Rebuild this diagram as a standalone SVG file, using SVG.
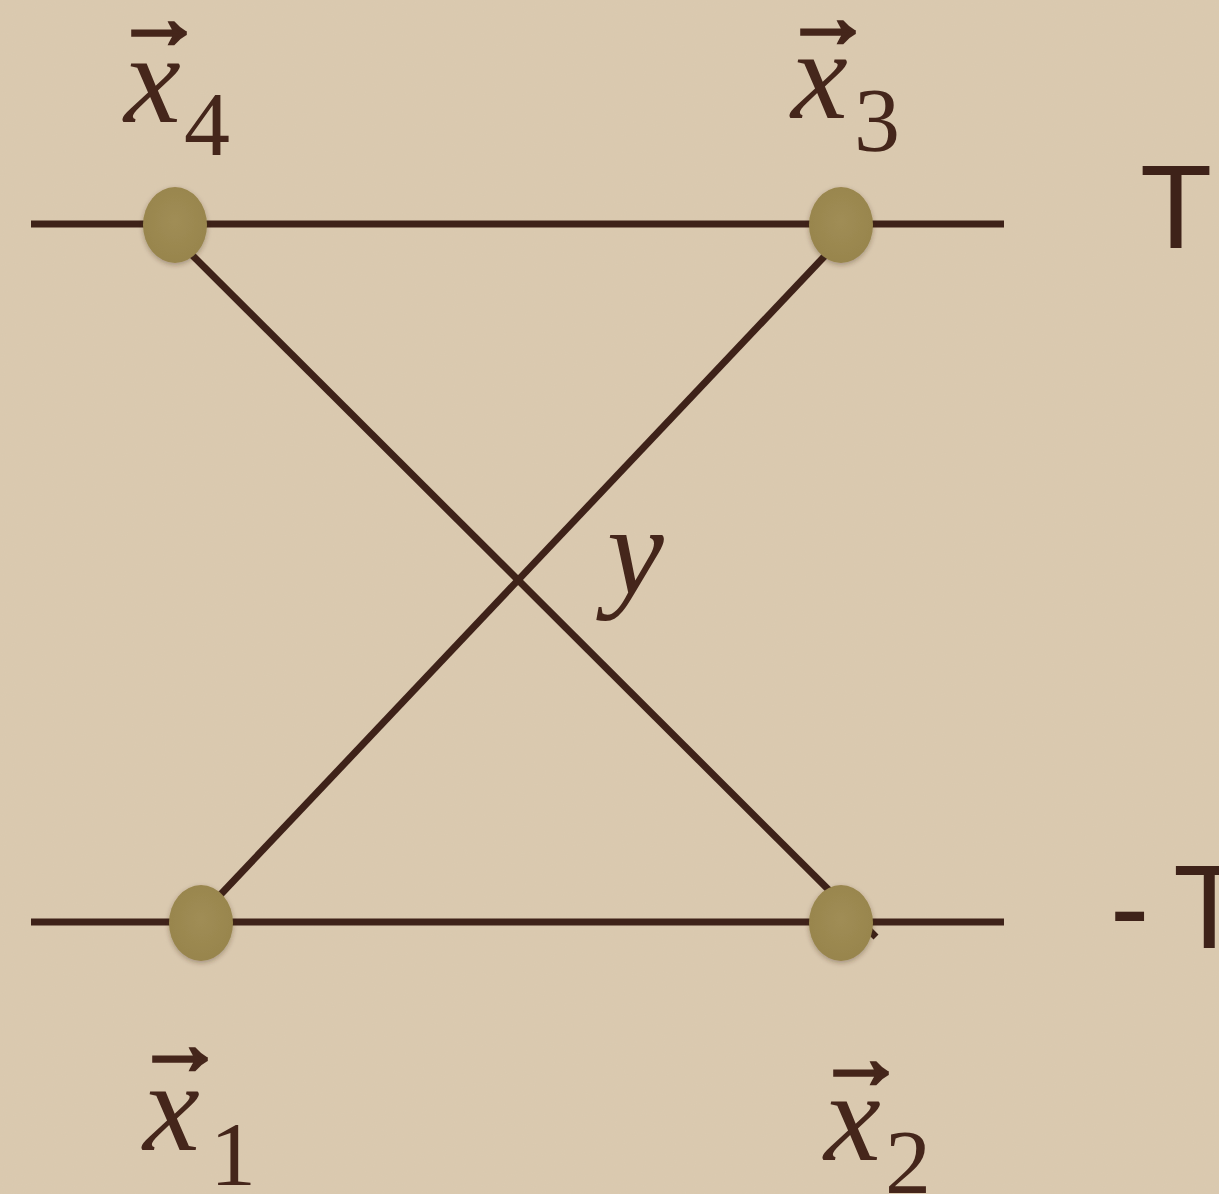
<svg xmlns="http://www.w3.org/2000/svg" width="1219" height="1194" viewBox="0 0 1219 1194">
  <defs>
    <filter id="paper" x="0" y="0" width="100%" height="100%">
      <feTurbulence type="fractalNoise" baseFrequency="0.9" numOctaves="2" seed="3" result="n"/>
      <feColorMatrix type="matrix" values="0 0 0 0 0.55  0 0 0 0 0.48  0 0 0 0 0.36  0 0 0 0.10 0" in="n"/>
    </filter>
    <filter id="shadow" x="-30%" y="-30%" width="160%" height="160%">
      <feDropShadow dx="0" dy="2" stdDeviation="2.5" flood-color="#3a2a15" flood-opacity="0.35"/>
    </filter>
    <radialGradient id="dotfill" cx="50%" cy="45%" r="60%">
      <stop offset="0" stop-color="#a08d55"/>
      <stop offset="1" stop-color="#97844c"/>
    </radialGradient>
  </defs>
  <style>
    .ln { stroke: #3e2219; stroke-width: 7; fill: none; }
    .dot { fill: url(#dotfill); filter: url(#shadow); }
    .var { font-family: "Liberation Serif", serif; font-style: italic; fill: #45261b; font-size: 128px; }
    .sub { font-family: "Liberation Serif", serif; fill: #45261b; font-size: 92px; }
    .arr { font-family: "Liberation Serif", "DejaVu Serif", serif; fill: #45261b; stroke: #45261b; stroke-width: 3.5; font-size: 88px; }
    .hand { font-family: "Liberation Sans", sans-serif; fill: #3e2219; font-size: 118px; }
  </style>
  <rect width="1219" height="1194" fill="#dbcab0"/>
  <rect width="1219" height="1194" filter="url(#paper)"/>

  <g id="connectors">
    <line class="ln" x1="31" y1="224" x2="1004" y2="224"/>
    <line class="ln" x1="31" y1="922" x2="1004" y2="922"/>
    <line class="ln" x1="180" y1="243" x2="876" y2="937"/>
    <line class="ln" x1="205" y1="911" x2="838" y2="242"/>
  </g>

  <g id="node-x4">
    <ellipse class="dot" cx="175" cy="225" rx="32" ry="38"/>
    <text class="arr" x="115" y="48">→</text>
    <text class="var" x="124" y="122">x</text>
    <text class="sub" x="184" y="155">4</text>
  </g>
  <g id="node-x3">
    <ellipse class="dot" cx="841" cy="225" rx="32" ry="38"/>
    <text class="arr" x="784" y="47">→</text>
    <text class="var" x="791" y="118">x</text>
    <text class="sub" x="854" y="151">3</text>
  </g>
  <g id="node-x1">
    <ellipse class="dot" cx="201" cy="923" rx="32" ry="38"/>
    <text class="arr" x="136" y="1074">→</text>
    <text class="var" x="143" y="1150">x</text>
    <text class="sub" x="210" y="1185">1</text>
  </g>
  <g id="node-x2">
    <ellipse class="dot" cx="841" cy="923" rx="32" ry="38"/>
    <text class="arr" x="817" y="1088">→</text>
    <text class="var" x="824" y="1160">x</text>
    <text class="sub" x="885" y="1193">2</text>
  </g>
  <g id="label-y">
    <text class="var" x="607" y="594">y</text>
  </g>
  <g id="label-T">
    <text class="hand" x="1140" y="248">T</text>
  </g>
  <g id="label-minusT">
    <text class="hand" x="1110" y="948">-<tspan dx="24">T</tspan></text>
  </g>
</svg>
